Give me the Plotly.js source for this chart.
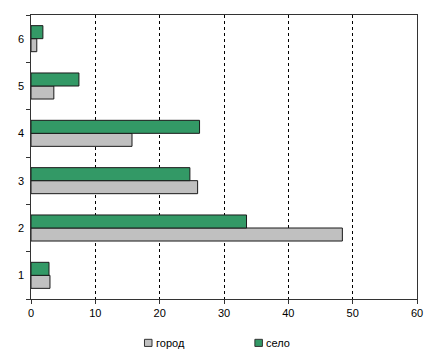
<!DOCTYPE html>
<html><head><meta charset="utf-8">
<script src="https://cdn.plot.ly/plotly-3.0.1.min.js"></script>
<style>html,body{margin:0;padding:0;background:#fff}#c{width:440px;height:357px}</style>
</head><body><div id="c"></div>
<script>
const categories = [1, 2, 3, 4, 5, 6];
const gorod = [2.95, 48.4, 25.9, 15.7, 3.55, 0.9];
const selo  = [2.8, 33.5, 24.7, 26.2, 7.45, 1.85];
const seriesNames = ['город', 'село'];
const seriesColors = ['#C0C0C0', '#339966'];
const xTicks = [0,10,20,30,40,50,60];
const boundaries = [0.5,1.5,2.5,3.5,4.5,5.5,6.5];

const traces = [
  {type:'bar', orientation:'h', name:seriesNames[0], y:categories, x:gorod, width:0.275, offset:-0.275,
   marker:{color:seriesColors[0], line:{color:'#1a1a1a', width:1}}},
  {type:'bar', orientation:'h', name:seriesNames[1], y:categories, x:selo, width:0.275, offset:0,
   marker:{color:seriesColors[1], line:{color:'#1a1a1a', width:1}}},
  {type:'scatter', mode:'markers', x:[0], y:[1], yaxis:'y2', showlegend:false, hoverinfo:'skip',
   marker:{opacity:0, size:1}}
];
// custom legend (paper coords)
const legX = [0.294, 0.580];
const shapes = legX.map((x0, i) => ({type:'rect', xref:'paper', yref:'paper',
  x0:x0, x1:x0+0.0195, y0:-0.167, y1:-0.142,
  fillcolor:seriesColors[i], line:{color:'#333', width:1}}));
const annotations = legX.map((x0, i) => ({xref:'paper', yref:'paper', x:x0+0.0245, y:-0.1545,
  xanchor:'left', yanchor:'middle', text:seriesNames[i], showarrow:false,
  font:{size:11, color:'#000'}}));

const layout = {
  width:440, height:357,
  margin:{l:31, r:23, t:15, b:57.5},
  paper_bgcolor:'#fff', plot_bgcolor:'#fff',
  font:{family:'Liberation Sans, Arial, sans-serif', size:11, color:'#000'},
  barmode:'overlay',
  showlegend:false,
  shapes:shapes, annotations:annotations,
  xaxis:{range:[0,60], tickvals:xTicks, ticks:'outside', ticklen:4, tickcolor:'#333',
         showline:true, linecolor:'#333', linewidth:1, mirror:true,
         showgrid:true, gridcolor:'#000', griddash:'3px,3px', gridwidth:1,
         zeroline:false, fixedrange:true},
  yaxis:{range:[0.5,6.5], tickvals:boundaries, ticktext:boundaries.map(()=>''),
         ticks:'outside', ticklen:4, tickcolor:'#333',
         showline:true, linecolor:'#333', linewidth:1, mirror:true,
         showgrid:false, zeroline:false},
  yaxis2:{overlaying:'y', side:'left', range:[0.5,6.5], tickvals:categories,
          ticktext:categories.map(String), ticks:'', showline:false, showgrid:false,
          zeroline:false, ticklabelstandoff:6}
};
Plotly.newPlot('c', traces, layout, {displayModeBar:false, staticPlot:true});
</script></body></html>
